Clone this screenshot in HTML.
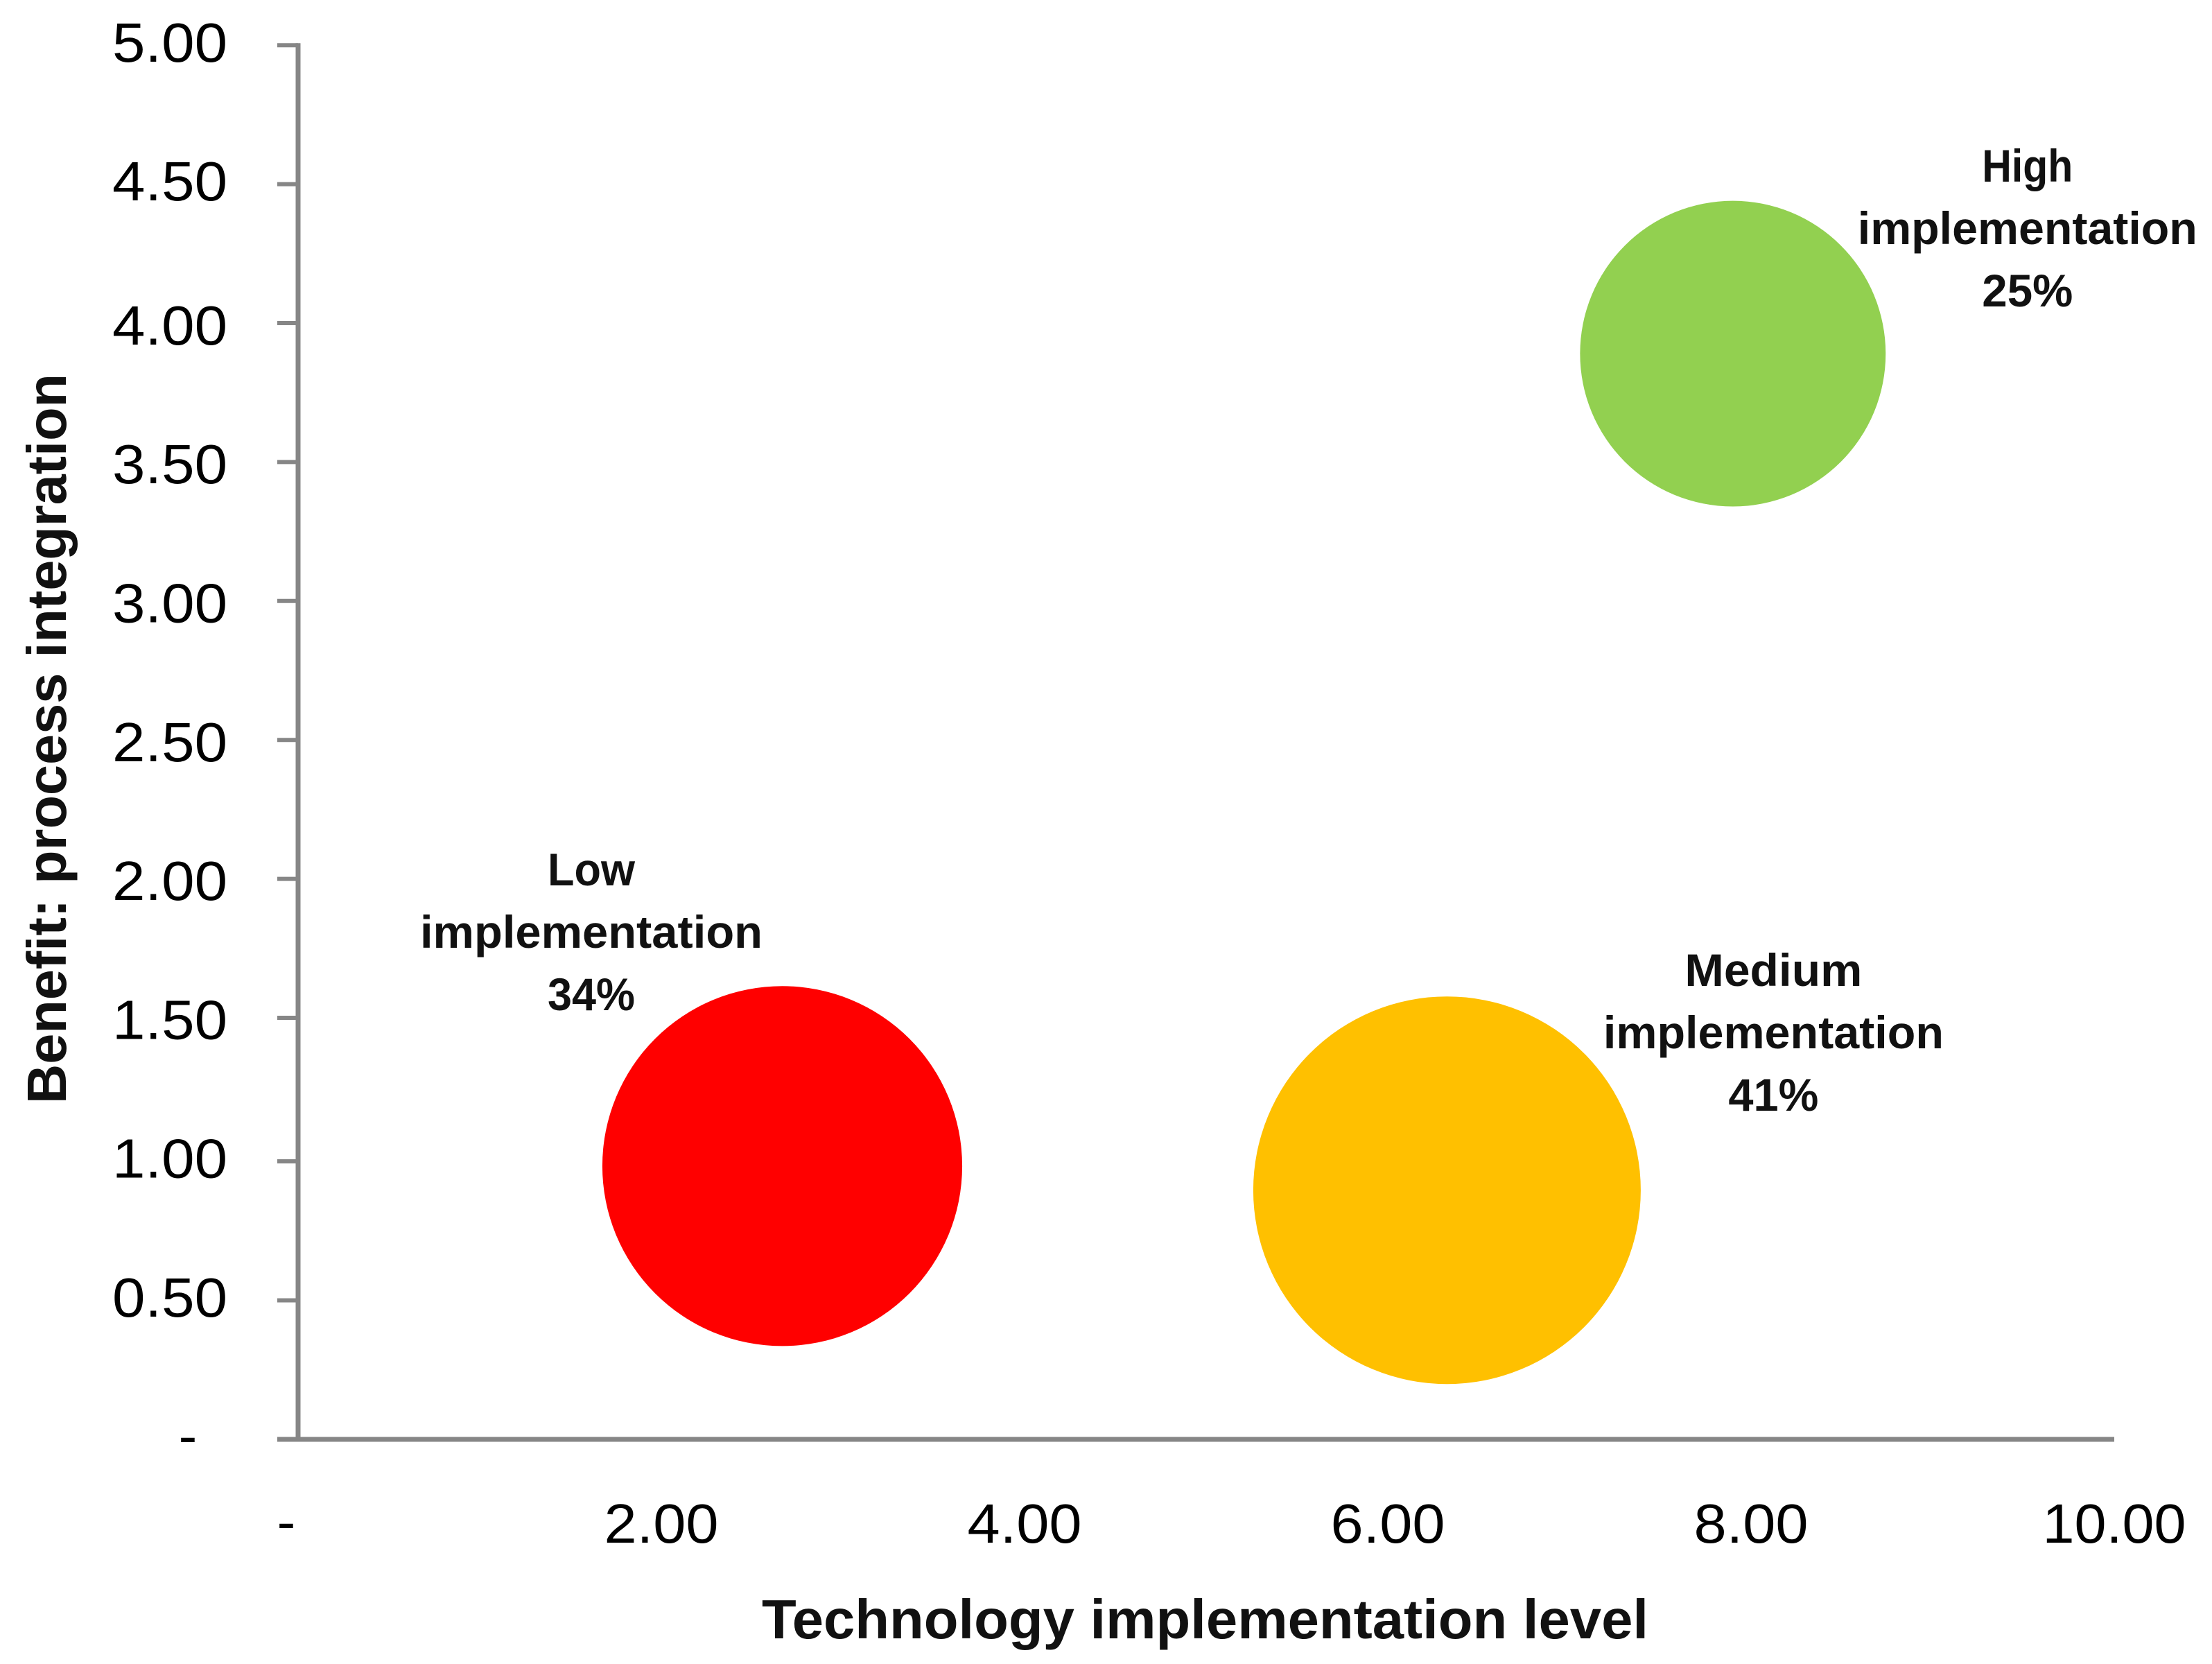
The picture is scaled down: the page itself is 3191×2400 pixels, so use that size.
<!DOCTYPE html>
<html lang="en">
<head>
<meta charset="utf-8">
<title>Benefit vs technology implementation level</title>
<style>
  html, body { margin: 0; padding: 0; background: #ffffff; }
  svg { display: block; }
  text { font-family: "Liberation Sans", sans-serif; fill: #000000; }
  .tick-label { font-size: 80px; }
  .axis-title { font-size: 80px; font-weight: bold; fill: #111111; }
  .bubble-label { font-size: 66px; font-weight: bold; fill: #111111; }
</style>
</head>
<body>
<svg id="chart" width="3191" height="2400" viewBox="0 0 3191 2400" xmlns="http://www.w3.org/2000/svg">
  <rect x="0" y="0" width="3191" height="2400" fill="#ffffff"/>
  <g id="bubbles"></g>
  <g id="axes"></g>
  <g id="labels"></g>
  <text class="axis-title" x="1099" y="2363" textLength="1279" lengthAdjust="spacingAndGlyphs">Technology implementation level</text>
  <text class="axis-title" transform="translate(95 1592) rotate(-90)" textLength="1053" lengthAdjust="spacingAndGlyphs">Benefit: process integration</text>
</svg>
<script>
const tiers = ["Low", "Medium", "High"];
const techLevel = [2.666, 6.326, 7.90];
const benefit = [0.983, 0.896, 3.89];
const bubbleSize = [34.8, 40.35, 25.1];
const sharePercent = [34, 41, 25];
const xTicks = [0, 2, 4, 6, 8, 10];
const yTicks = [0, 0.5, 1, 1.5, 2, 2.5, 3, 3.5, 4, 4.5, 5];
const xTickLabels = ["-", "2.00", "4.00", "6.00", "8.00", "10.00"];
const yTickLabels = ["-", "0.50", "1.00", "1.50", "2.00", "2.50", "3.00", "3.50", "4.00", "4.50", "5.00"];
const bubbleColors = ["#FF0000", "#FFC000", "#92D050"];

const NS = "http://www.w3.org/2000/svg";
const AXIS_COLOR = "#868686";
function xScale(v) { return 430 + v * 262; }
/* The source image has a small vertical seam between 1.00 and 1.50 on the axis. */
function yScale(v) {
  if (v <= 1) return 2076 - v * 401;
  if (v >= 1.5) return 1468 - (v - 1.5) * 400.8;
  return 1675 - (v - 1) * 414;
}
/* The tick label column has its own seam between 4.00 and 4.50. */
function yLabelBaseline(v) {
  if (v >= 4.5) return 289 - (v - 4.5) * 400;
  return 1899 - (v - 0.5) * 400.6;
}
function radius(s) { return 44 * Math.sqrt(s); }
function make(tag, parent) {
  const el = document.createElementNS(NS, tag);
  parent.appendChild(el);
  return el;
}

const axes = document.getElementById("axes");
const bubbles = document.getElementById("bubbles");
const labels = document.getElementById("labels");

function axisLine(x1, y1, x2, y2, width) {
  const l = make("line", axes);
  l.setAttribute("x1", x1);
  l.setAttribute("y1", y1);
  l.setAttribute("x2", x2);
  l.setAttribute("y2", y2);
  l.setAttribute("stroke", AXIS_COLOR);
  l.setAttribute("stroke-width", width);
  return l;
}

const yAxisLine = axisLine(xScale(0), yScale(5) - 3, xScale(0), yScale(0), 7);


const xAxisLine = axisLine(xScale(0) - 30, yScale(0), xScale(10), yScale(0), 7);



yTicks.forEach(function (v, i) {
  if (v !== 0) {
    const t = axisLine(xScale(0) - 30, yScale(v), xScale(0), yScale(v), 6);
    
    
  }
  const lab = make("text", axes);
  
  
  lab.setAttribute("class", "tick-label");
  const isDash = yTickLabels[i] === "-";
  lab.setAttribute("x", isDash ? 271 : 328);
  lab.setAttribute("y", isDash ? yScale(v) + 22 : yLabelBaseline(v));
  lab.setAttribute("text-anchor", isDash ? "middle" : "end");
  if (!isDash) {
    lab.setAttribute("textLength", 166);
    lab.setAttribute("lengthAdjust", "spacingAndGlyphs");
  }
  lab.textContent = yTickLabels[i];
});

xTicks.forEach(function (v, i) {
  const lab = make("text", axes);
  
  
  lab.setAttribute("class", "tick-label");
  const isDash = xTickLabels[i] === "-";
  lab.setAttribute("x", isDash ? xScale(v) - 17 : xScale(v));
  lab.setAttribute("y", isDash ? 2222 : 2225);
  lab.setAttribute("text-anchor", "middle");
  if (!isDash) {
    lab.setAttribute("textLength", xTickLabels[i].length === 5 ? 207 : 165);
    lab.setAttribute("lengthAdjust", "spacingAndGlyphs");
  }
  lab.textContent = xTickLabels[i];
});

function drawBubble(i, labelDx, labelDy, lineWidths) {
  const cx = xScale(techLevel[i]);
  const cy = yScale(benefit[i]);
  const c = make("circle", bubbles);
  
  
  c.setAttribute("cx", cx);
  c.setAttribute("cy", cy);
  c.setAttribute("r", radius(bubbleSize[i]));
  c.setAttribute("fill", bubbleColors[i]);

  const lines = [tiers[i], "implementation", sharePercent[i] + "%"];
  lines.forEach(function (line, n) {
    const t = make("text", labels);
    
    
    t.setAttribute("class", "bubble-label");
    t.setAttribute("x", cx + labelDx);
    t.setAttribute("y", cy + labelDy + n * 90);
    t.setAttribute("text-anchor", "middle");
    t.setAttribute("textLength", lineWidths[n]);
    t.setAttribute("lengthAdjust", "spacingAndGlyphs");
    t.textContent = line;
  });
}

drawBubble(0, -275.5, -405, [126, 494, 126]);
drawBubble(1, 471, -294.5, [256, 491, 130]);
drawBubble(2, 425, -248, [131, 490, 131]);
</script>
</body>
</html>
